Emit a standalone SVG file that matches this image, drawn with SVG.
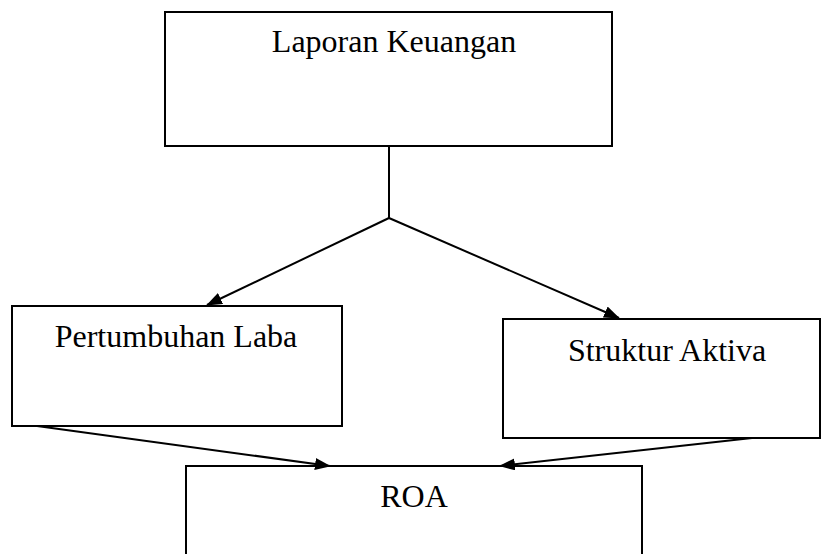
<svg xmlns="http://www.w3.org/2000/svg" width="821" height="554" viewBox="0 0 821 554">
<style>
.box{fill:#fff;stroke:#000;stroke-width:2}
.lbl{font-family:"Liberation Serif","Times New Roman",serif;font-size:32px;fill:#000;text-anchor:middle}
.con{stroke:#000;stroke-width:2;fill:none}
</style>
<defs>
<marker id="ah" markerWidth="16" markerHeight="12" refX="15" refY="6" orient="auto" markerUnits="userSpaceOnUse">
<path d="M0,0 L16,6 L0,12 Z" fill="#000"/>
</marker>
</defs>
<rect width="821" height="554" fill="#fff"/>
<g id="laporan"><rect class="box" x="165" y="12" width="447" height="134"/><text class="lbl" x="394" y="52">Laporan Keuangan</text></g>
<g id="pertumbuhan"><rect class="box" x="12" y="306" width="330" height="120"/><text class="lbl" x="176" y="347">Pertumbuhan Laba</text></g>
<g id="struktur"><rect class="box" x="503" y="319" width="317" height="119"/><text class="lbl" x="667" y="361">Struktur Aktiva</text></g>
<g id="roa"><rect class="box" x="186" y="466" width="456" height="100"/><text class="lbl" x="414" y="507">ROA</text></g>
<g id="connectors">
<line class="con" x1="389" y1="146" x2="389" y2="218"/>
<line class="con" x1="389" y1="218" x2="207" y2="305" marker-end="url(#ah)"/>
<line class="con" x1="389" y1="218" x2="619" y2="318" marker-end="url(#ah)"/>
<line class="con" x1="37" y1="426" x2="330" y2="466" marker-end="url(#ah)"/>
<line class="con" x1="752" y1="438" x2="500" y2="466" marker-end="url(#ah)"/>
</g>
</svg>
